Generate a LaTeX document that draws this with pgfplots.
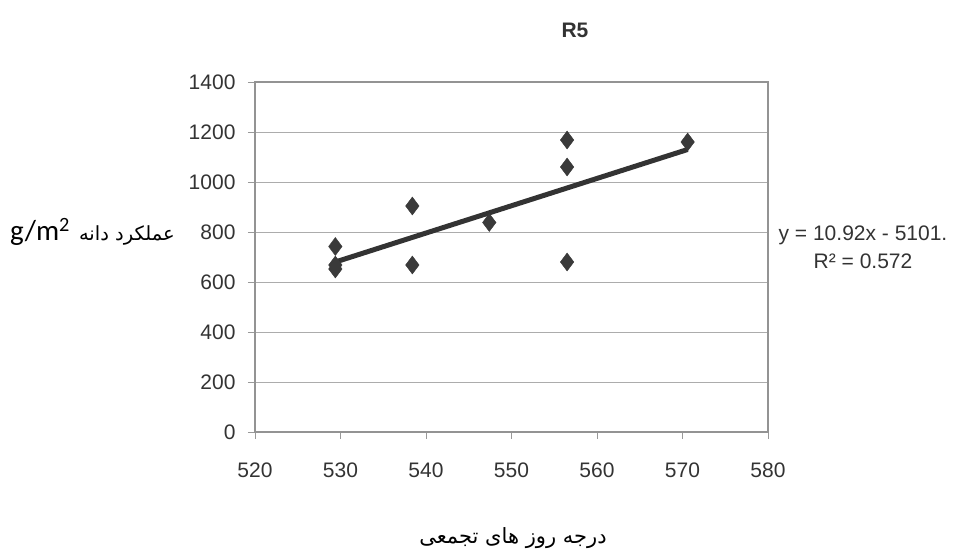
\documentclass[border=0pt]{standalone}
\usepackage{fontspec}
\setmainfont{Liberation Sans}
\newfontfamily\arabicfont[Script=Arabic]{DejaVu Sans}
\newfontfamily\carlito{Carlito}
\TeXXeTstate=1
\usepackage{pgfplots}
\pgfplotsset{compat=1.18}

\definecolor{markgray}{HTML}{3A3A3A}
\definecolor{linegray}{HTML}{333333}
\definecolor{txtgray}{HTML}{333333}

\begin{document}
\begin{tikzpicture}
\path[use as bounding box] (-255pt,-119pt) rectangle (699pt,432pt);
\begin{axis}[
    scale only axis,
    width=513pt, height=350pt,
    xmin=520, xmax=580, ymin=0, ymax=1400,
    xtick={520,530,...,580},
    ytick={0,200,...,1400},
    ymajorgrids,
    grid style={gray!65, line width=0.8pt},
    axis line style={gray!85, line width=1.4pt},
    tick align=outside,
    major tick length=7pt,
    tick style={gray!80, line width=0.8pt},
    xtick pos=bottom, ytick pos=left,
    /pgf/number format/assume math mode=true,
    /pgf/number format/1000 sep={},
    ticklabel style={font=\fontsize{21}{24}\selectfont, text=txtgray},
    yticklabel style={xshift=-9pt},
    xticklabel style={yshift=-20pt},
  ]
\addplot[only marks, mark=diamond*, mark size=9pt, draw=markgray, fill=markgray]
  coordinates {(529.4,742) (529.4,668) (529.4,652) (538.4,904) (538.4,668)
               (547.4,838) (556.5,1168) (556.5,1060) (556.5,680) (570.6,1160)};
\addplot[linegray, line width=5pt, no marks]
  coordinates {(529.4,680.0) (570.6,1130.0)};
\end{axis}
\node[font=\bfseries\fontsize{21}{24}\selectfont, text=txtgray] at (320pt,402pt) {R5};
\node[align=center, font=\fontsize{21}{25}\selectfont, text=txtgray] at (608pt,185pt)
  {y = 10.92x - 5101.\\[3pt]R² = 0.572};
\node[anchor=west, inner sep=0pt] at (-245pt,200pt)
  {{\carlito\fontsize{29}{32}\selectfont g/m\textsuperscript{2}}\hspace{9pt}{\arabicfont\fontsize{19.5}{22}\selectfont\beginR عملکرد دانه\endR}};
\node[font=\arabicfont\fontsize{21}{24}\selectfont] at (258pt,-106pt) {\beginR درجه روز های تجمعی\endR};
\end{tikzpicture}
\end{document}
